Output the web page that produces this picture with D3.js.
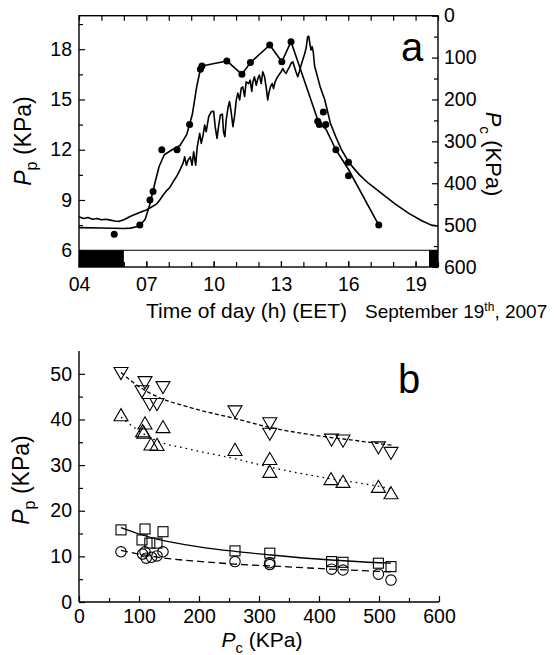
<!DOCTYPE html>
<html><head><meta charset="utf-8">
<script src="https://cdn.jsdelivr.net/npm/d3@7"></script>
<style>
body{margin:0;background:#fff;}
svg text{font-family:"Liberation Sans",Arial,Helvetica,sans-serif;fill:#000;}
</style></head>
<body><svg id="c" width="554" height="655"></svg>
<script>
// ---------- Panel a data ----------
const hourMajorTicks = [4, 7, 10, 13, 16, 19];
const ppTicks = [6, 9, 12, 15, 18];
const pcTicks = [0, 100, 200, 300, 400, 500, 600];
const dotHour = [5.57, 6.71, 7.16, 7.30, 7.69, 8.37, 8.93, 9.41, 9.48, 10.59, 11.26, 11.64, 12.50, 13.04, 13.45, 14.64, 14.71, 14.89, 15.00, 15.45, 16.01, 16.01, 17.36];
const dotPp = [6.95, 7.5, 9.0, 9.5, 12.0, 12.0, 13.5, 16.8, 17.0, 17.3, 16.5, 17.2, 18.25, 17.25, 18.45, 13.7, 13.5, 14.25, 13.5, 12.0, 11.25, 10.45, 7.5];
const ppLineHour = [4.0, 5.0, 6.0, 6.3, 6.7, 6.95, 7.15, 7.4, 7.57, 7.8, 8.15, 8.5, 8.8, 9.05, 9.25, 9.42, 9.48, 10.59, 11.26, 11.64, 12.50, 13.04, 13.45, 14.70, 15.00, 15.45, 16.00, 17.36];
const ppLine = [7.35, 7.33, 7.3, 7.32, 7.45, 7.85, 8.7, 10.1, 11.0, 11.7, 12.0, 12.25, 12.9, 14.1, 15.8, 16.85, 17.0, 17.3, 16.5, 17.2, 18.25, 17.25, 18.45, 13.55, 13.25, 12.0, 10.85, 7.5];
const pcHour = [4.0,4.2,4.4,4.6,4.8,5.0,5.2,5.4,5.6,5.8,6.0,6.3,6.7,7.0,7.2,7.45,7.6,7.75,7.9,8.05,8.2,8.35,8.5,8.64,8.71,8.79,8.86,8.96,9.04,9.11,9.20,9.27,9.38,9.45,9.53,9.60,9.67,9.78,9.90,10.0,10.07,10.15,10.22,10.30,10.39,10.44,10.50,10.56,10.65,10.71,10.79,10.86,10.93,11.01,11.08,11.16,11.23,11.30,11.38,11.45,11.56,11.63,11.70,11.75,11.82,11.90,11.97,12.04,12.12,12.19,12.27,12.34,12.41,12.46,12.53,12.61,12.67,12.74,12.81,12.90,13.01,13.08,13.16,13.23,13.30,13.38,13.45,13.53,13.60,13.67,13.75,13.82,13.90,13.97,14.04,14.12,14.19,14.24,14.30,14.34,14.39,14.44,14.50,14.56,14.75,14.95,15.20,15.45,15.70,16.05,16.50,16.90,17.50,18.10,18.70,19.30,19.70,20.0];
const pcVal = [480,484,482,486,484,487,486,488,490,491,487,479,470,464,458,450,440,428,418,410,396,384,368,352,337,357,345,337,357,325,357,313,281,305,285,261,277,241,229,228,265,293,265,237,235,277,289,249,217,205,233,265,241,201,185,201,173,170,193,158,162,154,181,158,146,166,150,142,162,134,146,170,201,185,170,162,174,158,150,142,134,126,134,138,130,122,114,110,122,134,146,134,118,106,94,78,50,49,70,82,74,86,120,132,170,200,256,290,320,352,380,400,425,450,472,490,500,502];
const nightSpans = [[4, 6], [19.6, 20]];

// ---------- Panel b data ----------
const bXTicks = [0, 100, 200, 300, 400, 500, 600];
const bYTicks = [0, 10, 20, 30, 40, 50];
const downPc = [70, 105, 110, 118, 130, 140, 260, 318, 318, 421, 440, 499, 520];
const downPp = [50.5, 46.5, 48.5, 43.7, 43.7, 47.4, 42.1, 39.5, 37.2, 35.9, 35.7, 34.2, 33.0];
const upPc = [70, 106, 108, 110, 120, 130, 140, 260, 318, 318, 420, 440, 499, 520];
const upPp = [40.6, 37.1, 36.8, 38.8, 34.2, 34.1, 38.0, 33.0, 31.0, 28.2, 26.6, 26.0, 24.9, 23.5];
const sqPc = [70, 105, 110, 118, 130, 140, 260, 318, 421, 440, 499, 520];
const sqPp = [15.8, 13.6, 16.0, 12.9, 12.9, 15.4, 11.2, 10.7, 8.85, 8.7, 8.5, 7.75];
const circPc = [70, 106, 110, 112, 121, 130, 140, 260, 318, 318, 421, 440, 499, 520];
const circPp = [11.0, 10.5, 11.0, 9.6, 9.8, 10.1, 11.0, 8.85, 8.6, 8.2, 7.2, 7.0, 6.1, 4.8];
const downFitPc = [70, 100, 130, 180, 260, 320, 400, 460, 525];
const downFitPp = [50.3, 47.2, 45.0, 42.8, 40.2, 38.2, 36.4, 35.4, 34.3];
const upFitPc = [70, 100, 130, 180, 260, 320, 420, 480, 525];
const upFitPp = [40.5, 37.5, 35.3, 33.6, 31.4, 29.5, 27.0, 25.8, 24.7];
const sqFitPc = [70, 100, 130, 200, 260, 320, 420, 500, 520];
const sqFitPp = [16.3, 14.9, 13.8, 12.1, 11.1, 10.3, 9.2, 8.6, 8.5];
const circFitPc = [70, 100, 150, 200, 260, 320, 420, 520];
const circFitPp = [11.3, 10.5, 9.5, 8.9, 8.3, 7.9, 7.2, 6.6];

const zip = (a, b) => a.map((v, i) => [v, b[i]]);
const svg = d3.select("#c");
const TICKF = 19.5;

function styleAxis(g) {
  g.selectAll("path.domain").remove();
  g.selectAll(".tick line").attr("stroke", "#000").attr("stroke-width", 1.2);
  g.selectAll("text").attr("font-size", TICKF).attr("fill", "#000");
}
function title(g, x, y, rot, sub, size) {
  const t = g.append("text").attr("transform", `translate(${x},${y}) rotate(${rot})`)
    .attr("text-anchor", "middle").attr("font-size", size);
  t.append("tspan").attr("font-style", "italic").text("P");
  t.append("tspan").attr("font-size", size * 0.7).attr("dy", size * 0.28).text(sub);
  t.append("tspan").attr("dy", -size * 0.28).text("\u00a0(KPa)");
}

// ================= Panel a =================
const L = 79, R = 438, T = 15.7, B = 267;
const xA = d3.scaleLinear([4, 20], [L, R]);
const yL = d3.scaleLinear([5, 20], [B, T]);
const yR = d3.scaleLinear([0, 600], [T, B]);
const ga = svg.append("g");

// day/night bar
ga.append("line").attr("x1", L).attr("x2", R).attr("y1", yL(6)).attr("y2", yL(6)).attr("stroke", "#000").attr("stroke-width", 1.2);
ga.selectAll("rect.night").data(nightSpans).join("rect").attr("class", "night")
  .attr("x", d => xA(d[0])).attr("width", d => xA(d[1]) - xA(d[0]))
  .attr("y", yL(6)).attr("height", B - yL(6)).attr("fill", "#000");

// axes
const hours = d3.range(4, 21);
ga.append("g").attr("transform", `translate(0,${B})`)
  .call(d3.axisBottom(xA).tickValues(hours).tickSize(-5).tickFormat(""))
  .call(styleAxis);
ga.append("g").attr("transform", `translate(0,${B})`)
  .call(d3.axisBottom(xA).tickValues(hourMajorTicks).tickSize(-6).tickPadding(10).tickFormat(d3.format("02d")))
  .call(styleAxis);
ga.append("g").attr("transform", `translate(0,${T})`)
  .call(d3.axisTop(xA).tickValues(hours).tickSize(-5).tickFormat(""))
  .call(styleAxis);
ga.append("g").attr("transform", `translate(${L},0)`)
  .call(d3.axisLeft(yL).tickValues(d3.range(7.5, 20, 3)).tickSize(-4).tickFormat(""))
  .call(styleAxis);
ga.append("g").attr("transform", `translate(${L},0)`)
  .call(d3.axisLeft(yL).tickValues(ppTicks).tickSize(-6).tickPadding(7))
  .call(styleAxis);
ga.append("g").attr("transform", `translate(${R},0)`)
  .call(d3.axisRight(yR).tickValues(d3.range(50, 600, 100)).tickSize(-4).tickFormat(""))
  .call(styleAxis);
ga.append("g").attr("transform", `translate(${R},0)`)
  .call(d3.axisRight(yR).tickValues(pcTicks).tickSize(-6).tickPadding(6))
  .call(styleAxis);
ga.append("rect").attr("x", L).attr("y", T).attr("width", R - L).attr("height", B - T)
  .attr("fill", "none").attr("stroke", "#000").attr("stroke-width", 1.4);

// lines
ga.append("path").datum(zip(pcHour, pcVal)).attr("fill", "none").attr("stroke", "#000").attr("stroke-width", 1.6)
  .attr("stroke-linejoin", "round")
  .attr("d", d3.line().x(d => xA(d[0])).y(d => yR(d[1])));
ga.append("path").datum(zip(ppLineHour, ppLine)).attr("fill", "none").attr("stroke", "#000").attr("stroke-width", 1.6)
  .attr("stroke-linejoin", "round")
  .attr("d", d3.line().x(d => xA(d[0])).y(d => yL(d[1])));
ga.selectAll("circle.dot").data(zip(dotHour, dotPp)).join("circle").attr("class", "dot")
  .attr("cx", d => xA(d[0])).attr("cy", d => yL(d[1])).attr("r", 3.5).attr("fill", "#000");

// texts
ga.append("text").attr("x", 401).attr("y", 61).attr("font-size", 40).text("a");
title(ga, 31, 141, -90, "p", 23);
title(ga, 486, 154, 90, "c", 22);
ga.append("text").attr("x", 146).attr("y", 318).attr("font-size", 21).text("Time of day (h) (EET)");
const sep = ga.append("text").attr("x", 365).attr("y", 318).attr("font-size", 19);
sep.append("tspan").text("September 19");
sep.append("tspan").attr("font-size", 12).attr("dy", -7).text("th");
sep.append("tspan").attr("dy", 7).text(", 2007");

// ================= Panel b =================
const xB = d3.scaleLinear([0, 600], [79, 439]);
const yB = d3.scaleLinear([0, 55], [602, 351]);
const gb = svg.append("g");
gb.append("g").attr("transform", "translate(0,602)")
  .call(d3.axisBottom(xB).tickValues(d3.range(50, 600, 100)).tickSize(-4).tickFormat(""))
  .call(styleAxis);
gb.append("g").attr("transform", "translate(0,602)")
  .call(d3.axisBottom(xB).tickValues(bXTicks).tickSize(-6).tickPadding(7))
  .call(styleAxis);
gb.append("g").attr("transform", "translate(79,0)")
  .call(d3.axisLeft(yB).tickValues(d3.range(5, 55, 10)).tickSize(-4).tickFormat(""))
  .call(styleAxis);
gb.append("g").attr("transform", "translate(79,0)")
  .call(d3.axisLeft(yB).tickValues(bYTicks).tickSize(-6).tickPadding(7))
  .call(styleAxis);
gb.append("line").attr("x1", 79).attr("x2", 439).attr("y1", 602).attr("y2", 602).attr("stroke", "#000").attr("stroke-width", 1.4);
gb.append("line").attr("x1", 79).attr("x2", 79).attr("y1", 351).attr("y2", 602).attr("stroke", "#000").attr("stroke-width", 1.4);

const fitLine = d3.line().x(d => xB(d[0])).y(d => yB(d[1])).curve(d3.curveMonotoneX);
const fits = [
  [zip(downFitPc, downFitPp), "4,2.5"],
  [zip(upFitPc, upFitPp), "1.6,4"],
  [zip(sqFitPc, sqFitPp), null],
  [zip(circFitPc, circFitPp), "7,4"]
];
fits.forEach(([pts, dash]) => {
  gb.append("path").datum(pts).attr("fill", "none").attr("stroke", "#000").attr("stroke-width", 1.3)
    .attr("stroke-dasharray", dash).attr("d", fitLine);
});
const tri = d3.symbol(d3.symbolTriangle, 85)();
gb.selectAll("path.down").data(zip(downPc, downPp)).join("path").attr("class", "down")
  .attr("d", tri).attr("transform", d => `translate(${xB(d[0])},${yB(d[1])}) rotate(180)`)
  .attr("fill", "none").attr("stroke", "#000").attr("stroke-width", 1.1);
gb.selectAll("path.up").data(zip(upPc, upPp)).join("path").attr("class", "up")
  .attr("d", tri).attr("transform", d => `translate(${xB(d[0])},${yB(d[1])})`)
  .attr("fill", "none").attr("stroke", "#000").attr("stroke-width", 1.1);
gb.selectAll("rect.sq").data(zip(sqPc, sqPp)).join("rect").attr("class", "sq")
  .attr("x", d => xB(d[0]) - 5).attr("y", d => yB(d[1]) - 5).attr("width", 10).attr("height", 10)
  .attr("fill", "none").attr("stroke", "#000").attr("stroke-width", 1.1);
gb.selectAll("circle.ci").data(zip(circPc, circPp)).join("circle").attr("class", "ci")
  .attr("cx", d => xB(d[0])).attr("cy", d => yB(d[1])).attr("r", 5.2)
  .attr("fill", "none").attr("stroke", "#000").attr("stroke-width", 1.1);

gb.append("text").attr("x", 398).attr("y", 393).attr("font-size", 40).text("b");
title(gb, 29, 480, -90, "p", 23);
title(gb, 262, 647, 0, "c", 21);
</script></body></html>
